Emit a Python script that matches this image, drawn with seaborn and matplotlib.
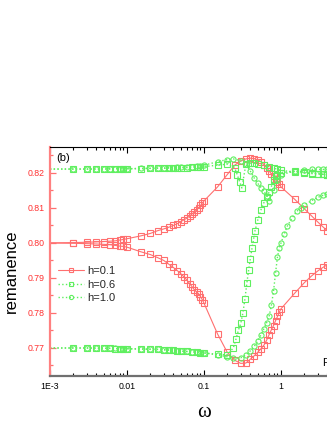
import numpy as np
import pandas as pd
import matplotlib
matplotlib.use("Agg")
import matplotlib.pyplot as plt
import seaborn as sns
from matplotlib.ticker import LogLocator, MultipleLocator, FixedFormatter, FixedLocator, NullFormatter
from matplotlib.lines import Line2D

sns.set_theme(style="white")
plt.rcParams['font.family'] = ['Liberation Sans', 'DejaVu Sans']

# ---------------- data ----------------
w_base = [0.001, 0.002, 0.003, 0.004, 0.005, 0.006, 0.007, 0.008, 0.009,
          0.01, 0.015, 0.02, 0.025, 0.03, 0.035, 0.04, 0.045, 0.05, 0.055, 0.06,
          0.065, 0.07, 0.075, 0.08, 0.085, 0.09, 0.095,
          0.1, 0.15, 0.2, 0.25, 0.3, 0.35, 0.4, 0.45, 0.5, 0.55, 0.6, 0.65, 0.7,
          0.75, 0.8, 0.85, 0.9, 0.95, 1.0, 1.5, 2.0, 2.5, 3.0, 3.5, 4.0, 4.5, 5.0]

h01_up = [0.8000, 0.8001, 0.8002, 0.8003, 0.8004, 0.8005, 0.8006, 0.8008, 0.8010,
          0.8012, 0.8020, 0.8027, 0.8035, 0.8040, 0.8045, 0.8050, 0.8055, 0.8061, 0.8066, 0.8071,
          0.8077, 0.8083, 0.8089, 0.8094, 0.8100, 0.8107, 0.8114,
          0.8120, 0.8160, 0.8195, 0.8222, 0.8234, 0.8240, 0.8242, 0.8241, 0.8237, 0.8232, 0.8224, 0.8215, 0.8206,
          0.8197, 0.8190, 0.8183, 0.8175, 0.8168, 0.8160, 0.8125, 0.8098, 0.8077, 0.8060, 0.8046, 0.8035, 0.8026, 0.8018]
h01_dn = [0.8000, 0.7999, 0.7998, 0.7997, 0.7996, 0.7995, 0.7993, 0.7991, 0.7990,
          0.7988, 0.7975, 0.7967, 0.7958, 0.7950, 0.7939, 0.7930, 0.7921, 0.7912, 0.7903, 0.7894,
          0.7884, 0.7875, 0.7866, 0.7860, 0.7855, 0.7847, 0.7838,
          0.7828, 0.7740, 0.7688, 0.7665, 0.7656, 0.7657, 0.7668, 0.7678, 0.7688, 0.7698, 0.7708, 0.7722, 0.7738,
          0.7752, 0.7764, 0.7778, 0.7790, 0.7802, 0.7812, 0.7856, 0.7886, 0.7906, 0.7920, 0.7930, 0.7938, 0.7945, 0.7950]

w_h06_up = [0.001, 0.002, 0.003, 0.004, 0.005, 0.006, 0.007, 0.008, 0.009,
            0.01, 0.015, 0.02, 0.025, 0.03, 0.035, 0.04, 0.045, 0.05, 0.06, 0.07, 0.08, 0.09,
            0.1, 0.15, 0.2, 0.25, 0.27, 0.29, 0.31, 0.35, 0.4, 0.45, 0.5, 0.6, 0.7, 0.8, 0.9,
            1.0, 1.5, 2.0, 2.5, 3.0, 3.5, 4.0, 4.5]
h06_up = [0.8211, 0.8211, 0.8211, 0.8211, 0.8211, 0.8211, 0.8212, 0.8212, 0.8212,
          0.8212, 0.8212, 0.8213, 0.8213, 0.8213, 0.8214, 0.8214, 0.8214, 0.8215, 0.8215, 0.8216, 0.8216, 0.8217,
          0.8218, 0.8222, 0.8225, 0.8215, 0.8195, 0.8175, 0.8157, 0.8225, 0.8228, 0.8228, 0.8226, 0.8222, 0.8218, 0.8214, 0.8210,
          0.8207, 0.8203, 0.8200, 0.8198, 0.8197, 0.8196, 0.8195, 0.8194]

w_h06_dn = [0.001, 0.002, 0.003, 0.004, 0.005, 0.006, 0.007, 0.008, 0.009,
            0.01, 0.015, 0.02, 0.025, 0.03, 0.035, 0.04, 0.045, 0.05, 0.06, 0.07, 0.08, 0.09,
            0.1, 0.15, 0.2, 0.24, 0.26, 0.28, 0.3, 0.32, 0.34, 0.36, 0.38, 0.4, 0.42, 0.44, 0.46, 0.5,
            0.55, 0.6, 0.65, 0.7, 0.75, 0.8, 0.85, 0.9, 1.0, 1.5, 2.0, 2.5, 3.0, 3.5, 4.0, 4.5]
h06_dn = [0.7700, 0.7700, 0.7700, 0.7699, 0.7699, 0.7699, 0.7698, 0.7698, 0.7698,
          0.7698, 0.7697, 0.7696, 0.7696, 0.7695, 0.7694, 0.7693, 0.7692, 0.7691, 0.7690, 0.7689, 0.7688, 0.7687,
          0.7686, 0.7682, 0.7680, 0.7700, 0.7725, 0.7751, 0.7770, 0.7800, 0.7840, 0.7885, 0.7923, 0.7955, 0.7985, 0.8010, 0.8035, 0.8066,
          0.8095, 0.8115, 0.8130, 0.8145, 0.8161, 0.8180, 0.8190, 0.8195, 0.8200, 0.8205, 0.8203, 0.8200, 0.8198, 0.8196, 0.8195, 0.8194]

w_h10_up = [0.001, 0.002, 0.003, 0.004, 0.005, 0.006, 0.007, 0.008, 0.009,
            0.01, 0.015, 0.02, 0.025, 0.03, 0.035, 0.04, 0.045, 0.05, 0.06, 0.07, 0.08, 0.09,
            0.1, 0.15, 0.2, 0.24, 0.3, 0.35, 0.4, 0.45, 0.5, 0.55, 0.6, 0.65, 0.7,
            0.8, 0.9, 1.0, 1.5, 2.0, 2.5, 3.0, 3.5, 4.0, 4.5]
h10_up = [0.8211, 0.8211, 0.8211, 0.8211, 0.8211, 0.8212, 0.8212, 0.8212, 0.8212,
          0.8212, 0.8213, 0.8213, 0.8214, 0.8214, 0.8215, 0.8215, 0.8216, 0.8216, 0.8217, 0.8218, 0.8219, 0.8220,
          0.8222, 0.8232, 0.8238, 0.8240, 0.8235, 0.8225, 0.8205, 0.8185, 0.8170, 0.8158, 0.8148, 0.8135, 0.8120,
          0.8150, 0.8180, 0.8195, 0.8205, 0.8208, 0.8210, 0.8210, 0.8210, 0.8210, 0.8210]

w_h10_dn = [0.001, 0.002, 0.003, 0.004, 0.005, 0.006, 0.007, 0.008, 0.009,
            0.01, 0.015, 0.02, 0.025, 0.03, 0.035, 0.04, 0.045, 0.05, 0.06, 0.07, 0.08, 0.09,
            0.1, 0.15, 0.2, 0.24, 0.3, 0.35, 0.4, 0.45, 0.5, 0.55, 0.6, 0.65, 0.7, 0.75, 0.8, 0.85, 0.9, 0.95,
            1.0, 1.1, 1.2, 1.4, 1.6, 1.8, 2.0, 2.5, 3.0, 3.5, 4.0, 4.5]
h10_dn = [0.7700, 0.7700, 0.7700, 0.7700, 0.7699, 0.7699, 0.7699, 0.7698, 0.7698,
          0.7698, 0.7697, 0.7697, 0.7696, 0.7695, 0.7694, 0.7693, 0.7692, 0.7691, 0.7690, 0.7689, 0.7688, 0.7687,
          0.7686, 0.7680, 0.7675, 0.7670, 0.7672, 0.7680, 0.7692, 0.7705, 0.7720, 0.7738, 0.7755, 0.7772, 0.7790, 0.7822, 0.7862, 0.7915, 0.7960, 0.7985,
          0.8000, 0.8025, 0.8047, 0.8072, 0.8090, 0.8100, 0.8108, 0.8121, 0.8130, 0.8136, 0.8140, 0.8143]

labels = ["h=0.1", "h=0.6", "h=1.0"]
x_tick_vals = [1e-3, 1e-2, 1e-1, 1]
x_tick_labels = ["1E-3", "0.01", "0.1", "1"]
RED = "#ff6f6f"
GREEN = "#5fef5f"

# ---------------- figure ----------------
W, H = 327, 423
fig = plt.figure(figsize=(W / 100, H / 100), dpi=100)
ax = fig.add_axes([50 / W, 1 - 376 / H, 308 / W, (376 - 147) / H])
ax.set_facecolor("white")

def branch(w, v, marker, ls, color, lw):
    df = pd.DataFrame({"w": w, "v": v})
    sns.lineplot(data=df, x="w", y="v", ax=ax, sort=False, color=color,
                 linestyle=ls, linewidth=lw, marker=marker, markersize=3.7,
                 markerfacecolor="none", markeredgecolor=color, markeredgewidth=0.8,
                 markevery=slice(1, None), legend=False, estimator=None)

branch(w_base, h01_up, "s", "-", RED, 0.8)
branch(w_base, h01_dn, "s", "-", RED, 0.8)
branch(w_h06_up, h06_up, "s", ":", GREEN, 1.0)
branch(w_h06_dn, h06_dn, "s", ":", GREEN, 1.0)
branch(w_h10_up, h10_up, "o", ":", GREEN, 1.0)
branch(w_h10_dn, h10_dn, "o", ":", GREEN, 1.0)

ax.set_xscale("log")
ax.set_xlim(1e-3, 10)
ax.set_ylim(0.762, 0.8274)
ax.set_xlabel("")
ax.set_ylabel("")

# ticks
ax.xaxis.set_major_locator(FixedLocator(x_tick_vals))
ax.xaxis.set_major_formatter(FixedFormatter(x_tick_labels))
ax.xaxis.set_minor_locator(LogLocator(base=10, subs=np.arange(2, 10), numticks=20))
ax.xaxis.set_minor_formatter(NullFormatter())
ax.yaxis.set_major_locator(MultipleLocator(0.01))
ax.yaxis.set_minor_locator(MultipleLocator(0.005))
ax.yaxis.set_major_formatter(matplotlib.ticker.FormatStrFormatter("%.2f"))

ax.tick_params(axis="x", which="both", direction="in", top=True, bottom=True,
               colors="black", labelsize=6.3, pad=4)
ax.tick_params(axis="x", which="major", length=4, width=0.8)
ax.tick_params(axis="x", which="minor", length=2.5, width=0.8)
ax.tick_params(axis="y", which="both", direction="in", left=True, right=False,
               colors=RED, labelcolor="#ff3030", labelsize=6.3, pad=4)
ax.tick_params(axis="y", which="major", length=4, width=0.9)
ax.tick_params(axis="y", which="minor", length=2.5, width=0.9)

for s in ["left", "bottom", "top", "right"]:
    ax.spines[s].set_visible(True)
ax.spines["left"].set_color("#ff8080")
ax.spines["left"].set_linewidth(1.6)
ax.spines["bottom"].set_color("#707070")
ax.spines["bottom"].set_linewidth(1.6)
ax.spines["top"].set_color("black")
ax.spines["top"].set_linewidth(0.8)
ax.spines["right"].set_color("black")
ax.spines["right"].set_linewidth(0.8)

# legend
handles = [
    Line2D([], [], color=RED, ls="-", lw=0.8, marker="s", markersize=3.0,
           markerfacecolor="none", markeredgecolor=RED, markeredgewidth=0.8),
    Line2D([], [], color=GREEN, ls=":", lw=1.0, marker="s", markersize=3.0,
           markerfacecolor="none", markeredgecolor=GREEN, markeredgewidth=0.8),
    Line2D([], [], color=GREEN, ls=":", lw=1.0, marker="o", markersize=3.0,
           markerfacecolor="none", markeredgecolor=GREEN, markeredgewidth=0.8),
]
leg = ax.legend(handles, labels, loc="upper left",
                bbox_to_anchor=(56 / W, 1 - 264 / H), bbox_transform=fig.transFigure,
                frameon=False, fontsize=8, handlelength=2.3, handletextpad=0.3,
                labelspacing=0.3, borderaxespad=0.0, borderpad=0.2)

fig.text(56 / W, 1 - 158 / H, "(b)", fontsize=8, ha="left", va="center", color="black")
fig.text(322 / W, 1 - 363 / H, "P", fontsize=8, ha="left", va="center", color="black")
fig.text(11 / W, 1 - 271 / H, "remanence", rotation=90, fontsize=12,
         ha="center", va="center", color="black")
fig.text(204 / W, 1 - 412 / H, "ω", fontsize=15, ha="center", va="center",
         family=["Liberation Serif", "DejaVu Serif"], color="black")

fig.savefig("out.png", dpi=100, facecolor="white")
